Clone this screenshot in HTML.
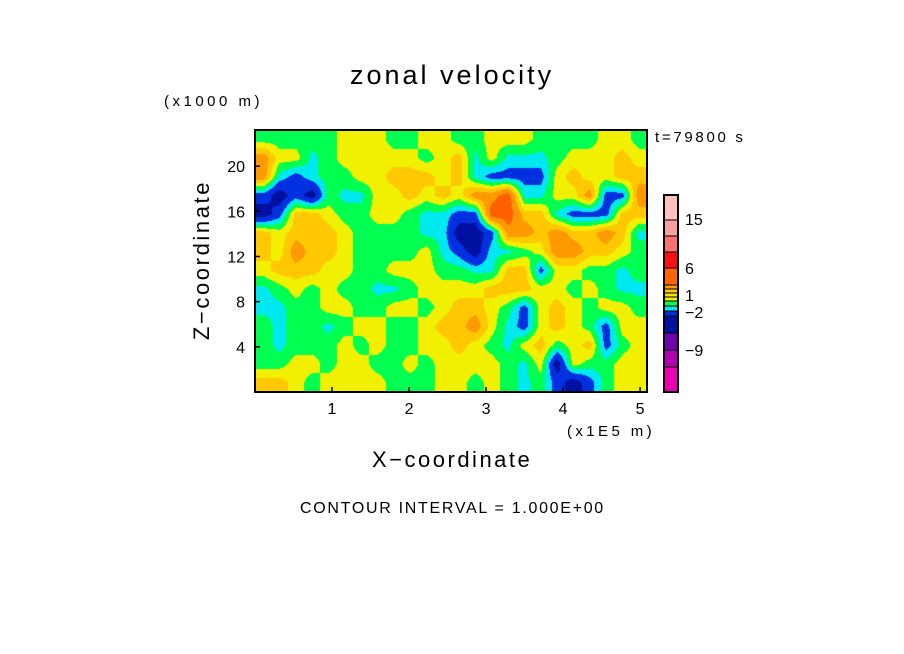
<!DOCTYPE html>
<html><head><meta charset="utf-8"><style>
body{margin:0;background:#fff;width:904px;height:654px;position:relative;overflow:hidden;font-family:"Liberation Sans",sans-serif;color:#000}
.t{position:absolute;white-space:nowrap}
</style></head><body>
<div class="t" style="left:350px;top:60px;font-size:27px;letter-spacing:3px">zonal velocity</div>
<div class="t" style="left:164px;top:93px;font-size:15px;letter-spacing:3.5px">(x1000 m)</div>
<div class="t" style="left:655px;top:129px;font-size:15px;letter-spacing:2.7px">t=79800 s</div>
<div class="t" style="left:567px;top:423px;font-size:15px;letter-spacing:3.4px">(x1E5 m)</div>
<div class="t" style="left:372px;top:447px;font-size:22px;letter-spacing:2.5px">X−coordinate</div>
<div class="t" style="left:202px;top:260px;font-size:22px;letter-spacing:2.6px;transform:translate(-50%,-50%) rotate(-90deg)">Z−coordinate</div>
<div class="t" style="left:300px;top:500px;font-size:16px;letter-spacing:1.7px">CONTOUR INTERVAL = 1.000E+00</div>
<canvas id="field" width="392" height="262" style="position:absolute;left:255px;top:130px"></canvas>
<svg id="ov" width="904" height="654" style="position:absolute;left:0;top:0"></svg>
<script>
const xTicks=[1,2,3,4,5];
const yTicks=[4,8,12,16,20];
const cbColors=["#ffc0c0","#ffa0a0","#ff7070","#ff1010","#ff6600","#ff9900","#ffc800","#f5e600","#f0f000","#00ff50","#00e8f0","#0030e0","#0010a0","#7000b0","#b000b0","#e800b0"];
const cbLabels=["15","6","1","−2","−9"];
const K={B:-4.5,b:-2.6,c:-1.3,g:-0.5,y:0.5,o:1.5,O:2.8,r:4.5};
const rows=[
"gggggyyyggyyggyyyggggyyg",
"Oyycgyyyyygyocycccgyyyoy",
"Ocbcggyyoooyocbbbbyoyyoo",
"bBbBgccyyoyoyOOrccyyObbO",
"Bbooyggyygccbbrroocbbboo",
"oyoooyggggccBBbOOoOooOoc",
"oyOooyggggycbBccgyOOooyg",
"yoooyyggyyyggccoobyyggcg",
"cgygyggccgyyyyoooyygygcc",
"ccggyyggyygyooygbyoygyyg",
"gcggcgyyggyooOycbyoygbyy",
"gcgggygyggyyoygcyogyobgy",
"ggyygyyggygyyyygcyByggyy",
"ooygyyyygggyygygcgbBbgyy"];
const grid=rows.map(r=>r.split("").map(ch=>K[ch]));
const X0=255,X1=647,Y0=130,Y1=392,XMAX=5.09,YMAX=23.2;
const sx=v=>X0+v/XMAX*(X1-X0), sy=v=>Y1-v/YMAX*(Y1-Y0);
function colorFor(v){
  if(v<-3.5)return[0,16,160];if(v<-2)return[0,48,224];if(v<-1)return[0,232,240];
  if(v<0)return[0,255,80];if(v<1)return[240,240,0];if(v<2)return[255,200,0];
  if(v<3.5)return[255,153,0];return[255,96,0];}
const cv=document.getElementById('field'),ctx=cv.getContext('2d');
const W=cv.width,H=cv.height,img=ctx.createImageData(W,H);
const nr=grid.length,nc=grid[0].length;
for(let py=0;py<H;py++)for(let px=0;px<W;px++){
  let gx=Math.min(Math.max((px+0.5)/W*nc-0.5,0),nc-1.001),gy=Math.min(Math.max((py+0.5)/H*nr-0.5,0),nr-1.001);
  let i=Math.floor(gx),j=Math.floor(gy),fx=gx-i,fy=gy-j;
  const v=(grid[j][i]*(1-fx)+grid[j][i+1]*fx)*(1-fy)+(grid[j+1][i]*(1-fx)+grid[j+1][i+1]*fx)*fy;
  const c=colorFor(v),k=(py*W+px)*4;img.data[k]=c[0];img.data[k+1]=c[1];img.data[k+2]=c[2];img.data[k+3]=255;}
ctx.putImageData(img,0,0);
const NS="http://www.w3.org/2000/svg",svg=document.getElementById('ov');
function mk(t,a,txt){const e=document.createElementNS(NS,t);for(const k in a)e.setAttribute(k,a[k]);if(txt!==undefined)e.textContent=txt;svg.appendChild(e);return e;}
const fr=mk('rect',{x:X0,y:Y0,width:X1-X0,height:Y1-Y0,fill:'none',stroke:'#000','stroke-width':2});


xTicks.forEach(v=>{const l=mk('line',{x1:sx(v),x2:sx(v),y1:Y1,y2:Y1-5,stroke:'#000','stroke-width':1.5});


const t=mk('text',{x:sx(v),y:Y1+22,'text-anchor':'middle','font-size':16,'font-family':'Liberation Sans'},String(v));

});
yTicks.forEach(v=>{const l=mk('line',{x1:X0,x2:X0+5,y1:sy(v),y2:sy(v),stroke:'#000','stroke-width':1.5});


const t=mk('text',{x:X0-10,y:sy(v)+6,'text-anchor':'end','font-size':16,'font-family':'Liberation Sans'},String(v));

});
const CB0=195,CB1=392,CBX=664,CBW=14;
const segY=[195,220,236,252,268,285,289,293,297,301,306,311,316,333,350,367,392];
cbColors.forEach((c,i)=>{const r=mk('rect',{x:CBX,y:segY[i],width:CBW,height:segY[i+1]-segY[i],fill:c,stroke:'#000','stroke-width':1});

});
const cbf=mk('rect',{x:CBX,y:CB0,width:CBW,height:CB1-CB0,fill:'none',stroke:'#000','stroke-width':2});


const labY=[219,268,295,312,350];
cbLabels.forEach((s,i)=>{const t=mk('text',{x:685,y:labY[i]+6,'font-size':16,'font-family':'Liberation Sans'},s);

});
</script>
</body></html>
